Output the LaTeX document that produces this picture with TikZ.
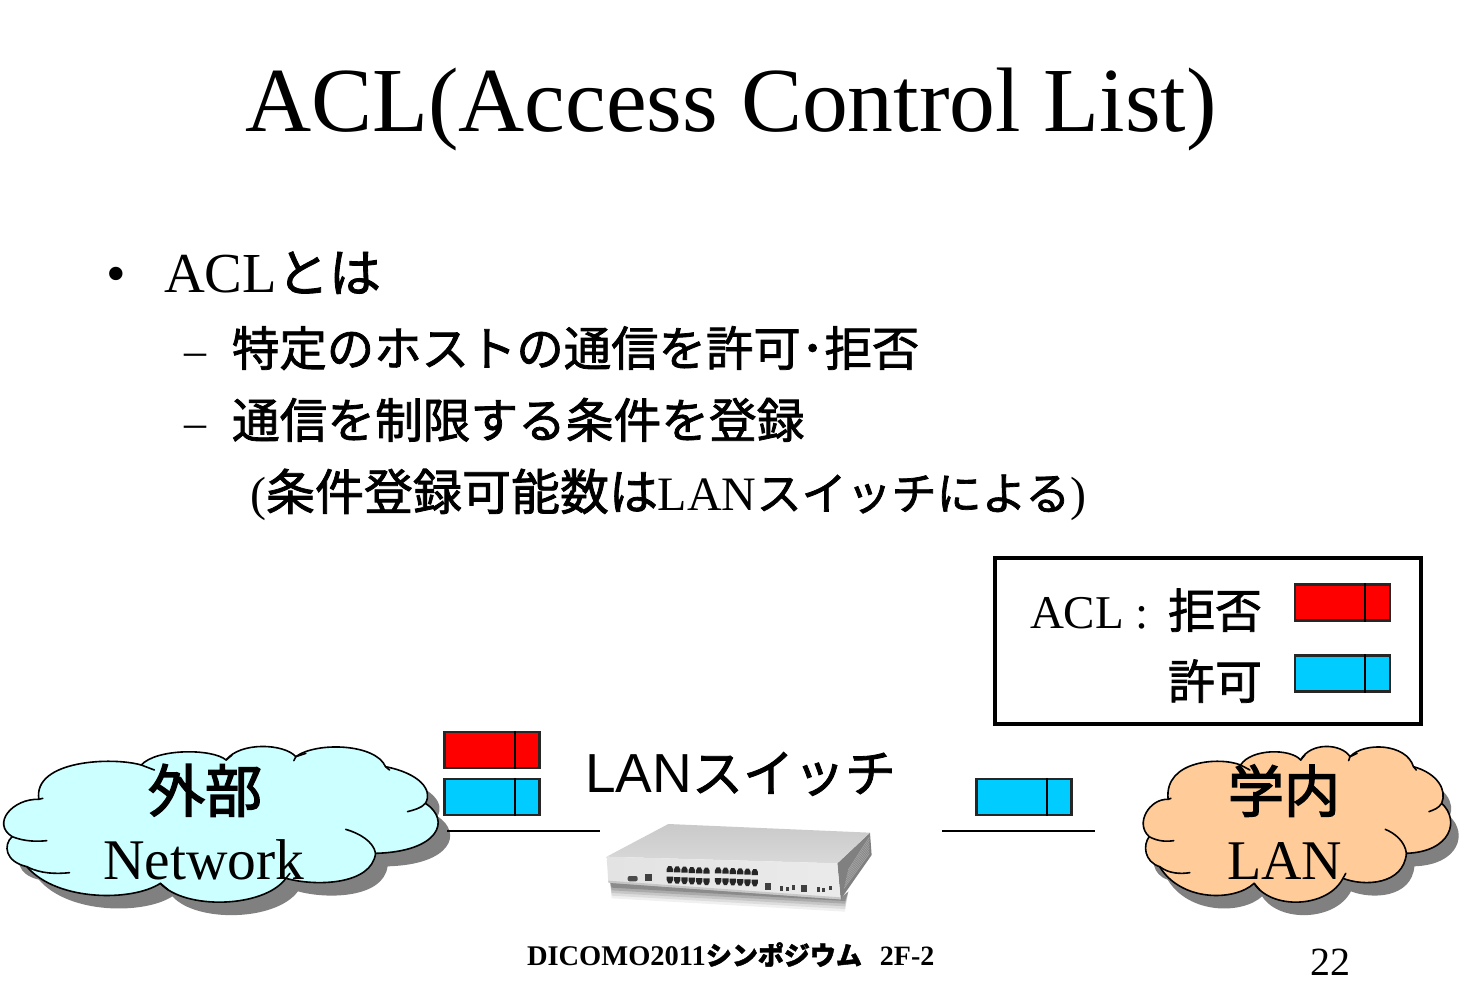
\documentclass[tikz,border=0pt]{standalone}
\usepackage{fontspec}
\setmainfont{Liberation Serif}
\setsansfont{Liberation Sans}
\newfontfamily\cjk[FakeBold=1.6]{Noto Sans CJK JP}
\newfontfamily\cjkh[FakeBold=2.6]{Noto Sans CJK JP}
\usetikzlibrary{calc}
\definecolor{pktred}{RGB}{255,0,0}
\definecolor{pktblue}{RGB}{0,204,255}
\definecolor{cloudblue}{RGB}{204,255,255}
\definecolor{cloudorange}{RGB}{255,204,153}
\definecolor{shadowgray}{RGB}{128,128,128}
\newcommand{\fs}[1]{\fontsize{#1}{#1}\selectfont}
\newcommand{\jp}[1]{{\cjkh #1}}
\newcommand{\jpr}[1]{{\cjk #1}}
\newcommand{\cloudpath}{(105,238) .. controls (40,235) and (-15,310) .. (38,350)
 .. controls (15,375) and (20,425) .. (75,440)
 .. controls (150,545) and (340,545) .. (410,490)
 .. controls (470,570) and (670,565) .. (725,475)
 .. controls (800,500) and (940,495) .. (950,400)
 .. controls (1110,395) and (1140,300) .. (1075,250)
 .. controls (1095,210) and (1060,160) .. (975,140)
 .. controls (950,70) and (800,65) .. (750,110)
 .. controls (720,70) and (610,65) .. (575,120)
 .. controls (540,85) and (400,85) .. (362,135)
 .. controls (290,110) and (90,120) .. cycle}
\newcommand{\cloudhooks}{(105,238) -- (115,235)
 (38,350) .. controls (70,365) and (100,365) .. (125,362)
 (75,440) .. controls (110,462) and (150,462) .. (182,458)
 (410,490) -- (430,510)
 (725,475) -- (735,460)
 (950,400) .. controls (945,365) and (910,340) .. (875,328)
 (1075,250) .. controls (1065,265) and (1045,270) .. (1030,275)
 (975,140) -- (985,150)
 (745,122) -- (750,110) -- (775,100)
 (575,120) -- (590,105)
 (362,135) -- (395,150)}
\newcommand{\drawcloud}[4]{%
 \begin{scope}[shift={(#1+#4,720+13)},xscale=#2,yscale=0.3333]
  \fill[shadowgray] \cloudpath;
 \end{scope}
 \begin{scope}[shift={(#1,720)},xscale=#2,yscale=0.3333]
  \filldraw[fill=#3,draw=black,line width=1.6pt,line join=round] \cloudpath;
  \draw[black,line width=1.6pt,line cap=round] \cloudhooks;
 \end{scope}}
\newcommand{\pkt}[4]{%
 \node[packet,fill=#4] (#1) at (#2,#3) {};
 \draw[black,line width=2.2pt] ($(#1.north east)+(-26,0)$) -- ($(#1.south east)+(-26,0)$);}
\tikzset{
 x=1pt,y=-1pt,
 packet/.style={draw=black!85,line width=2.2pt,minimum width=95pt,minimum height=36pt,inner sep=0pt},
 txt/.style={anchor=base west,inner sep=0pt,outer sep=0pt,text=black},
 link/.style={black,line width=1.4pt},
}
\begin{document}
\begin{tikzpicture}
\useasboundingbox (0,0) rectangle (1464,1002);
\fill[white] (0,0) rectangle (1464,1002);
% title
\node[txt] (title) at (245,131) {\fs{91.6}ACL(Access Control List)};
% bullets
\node[txt] (b1) at (106,292) {\fs{56}•};
\node[txt] (b1t) at (164,292) {\fs{56.5}ACL\jpr{\fs{52}とは}};
\node[txt] (d1) at (184,365) {\fs{44}–};
\node[txt] (d1t) at (232,366) {\jpr{\fs{47.4}特定のホストの通信を許可･拒否}};
\node[txt] (d2) at (184,437) {\fs{44}–};
\node[txt] (d2t) at (232,438) {\jpr{\fs{47.7}通信を制限する条件を登録}};
\node[txt] (d3t) at (250,510) {\fs{48}(\jpr{\fs{49}条件登録可能数は}LAN\jpr{\fs{45}スイッチによる})};
% legend
\node[draw=black,line width=4pt,minimum width=426pt,minimum height=166pt,inner sep=0pt] (legend) at (1208,641) {};
\node[txt] (la) at (1030,628) {\fs{47}ACL :};
\node[txt] (lb) at (1168,628) {\jpr{\fs{47}拒否}};
\node[txt] (lc) at (1168,699) {\jpr{\fs{47}許可}};
\pkt{lred}{1342.5}{602.5}{pktred}
\pkt{lblue}{1342.5}{673.5}{pktblue}
% clouds
\drawcloud{-3}{0.3985}{cloudblue}{12}
\drawcloud{1138.5}{0.282}{cloudorange}{8}
\node[txt] (c1a) at (148,812) {\jp{\fs{57}外部}};
\node[txt] (c1b) at (103,879) {\fs{57.5}Network};
\node[txt] (c2a) at (1228,812) {\jp{\fs{56}学内}};
\node[txt] (c2b) at (1227,879) {\fs{56}LAN};
% packets
\pkt{pr}{492}{750}{pktred}
\pkt{pb}{492}{797}{pktblue}
\pkt{pb2}{1024}{797}{pktblue}
% links
\coordinate (l1a) at (447,831);
\coordinate (l1b) at (600,831);
\coordinate (l2a) at (942,831);
\coordinate (l2b) at (1095,831);
\draw[link] (l1a) -- (l1b);
\draw[link] (l2a) -- (l2b);
% switch
\node[txt] (sw) at (585,792) {\sffamily\fs{55}LAN\jpr{\fs{51}スイッチ}};
\begin{scope}[shift={(590,810)},scale=0.3333]
 \foreach \o/\g in {40/0.06,32/0.08,24/0.10,16/0.14,8/0.18}{
  \fill[black,opacity=\g] (60,215) -- (750,265) -- (775,245) -- (765,265+\o) -- (65,225+\o) -- cycle;}
 \fill[black!50] (840,68) -- (845,135) -- (752,268) -- (742,160) -- cycle;
 \foreach \i in {0,...,6}{\draw[black!35,line width=0.6pt] (762+\i*2,235-\i*9) -- (838,130-\i*8);}
 \shade[top color=gray!42,bottom color=gray!30] (50,140) -- (235,42) -- (840,68) -- (742,160) -- cycle;
 \shade[left color=gray!22,right color=gray!16] (50,140) -- (742,160) -- (752,268) -- (55,218) -- cycle;
 \fill[black!30,opacity=0.6] (55,218) -- (752,268) -- (752,262) -- (55,212) -- cycle;
 \foreach \sx/\sy in {230/168,375/172}{
  \foreach \k in {0,...,5}{
   \fill[black!85] ({\sx+\k*22},{\sy+\k*1+18}) -- ({\sx+\k*22+19},{\sy+\k*1+18}) -- ({\sx+\k*22+19},{\sy+\k*1+9}) -- ({\sx+\k*22+14},{\sy+\k*1}) -- ({\sx+\k*22+5},{\sy+\k*1}) -- ({\sx+\k*22},{\sy+\k*1+9}) -- cycle;
   \fill[black!85] ({\sx+\k*22},{\sy+\k*1+32}) -- ({\sx+\k*22+19},{\sy+\k*1+32}) -- ({\sx+\k*22+19},{\sy+\k*1+42}) -- ({\sx+\k*22+14},{\sy+\k*1+52}) -- ({\sx+\k*22+5},{\sy+\k*1+52}) -- ({\sx+\k*22},{\sy+\k*1+42}) -- cycle;}}
 \fill[black!70,rounded corners=2pt] (113,198) rectangle (143,214);
 \fill[black!75] (165,192) rectangle (186,214);
 \fill[black!75] (524,220) rectangle (543,241);
 \fill[black!75] (632,226) rectangle (652,246);
 \foreach \px/\py in {570/229,587/230,606/226,680/232,697/233,716/228}{\fill[black!75] (\px,\py) rectangle ++(9,13);}
\end{scope}
% footer
\node[txt] (foot) at (527,965) {\bfseries\fs{28.5}DICOMO2011\jpr{\fs{26}シンポジウム}\hspace{18pt}\fs{28}2F-2};
\node[txt] (page) at (1310,975) {\fs{40}22};
\end{tikzpicture}
\end{document}
